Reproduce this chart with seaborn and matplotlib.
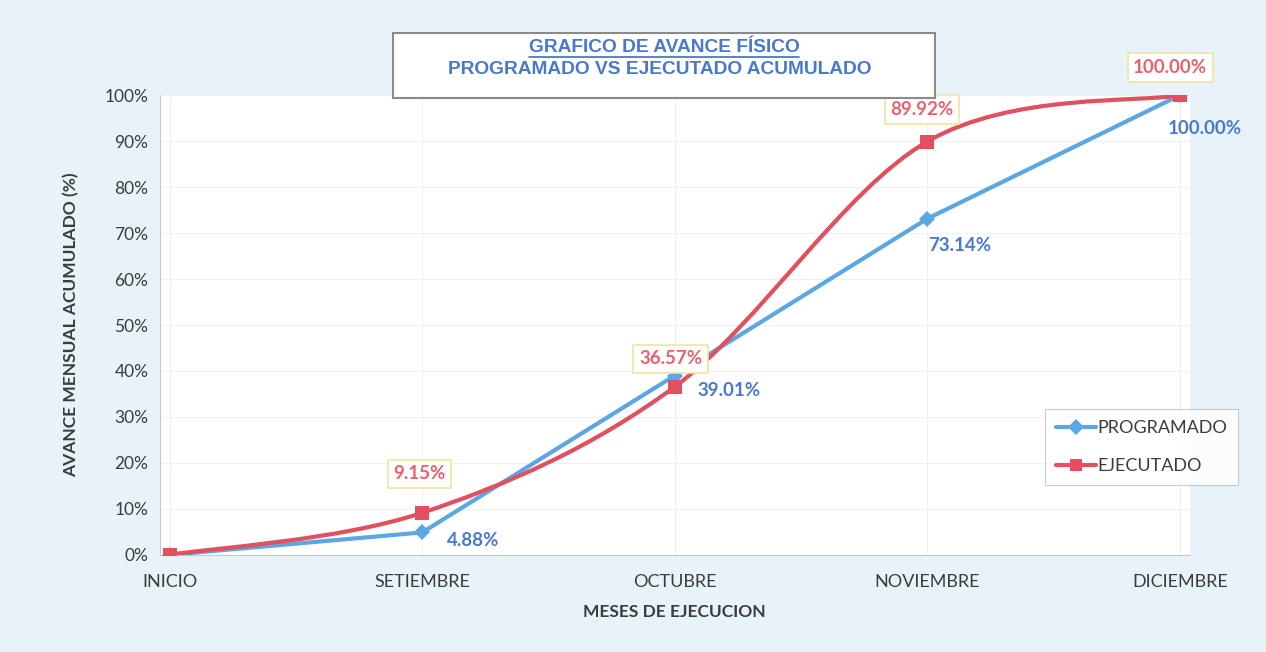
import numpy as np
import pandas as pd
import seaborn as sns
import matplotlib
matplotlib.use("Agg")
import matplotlib.pyplot as plt
from matplotlib.path import Path
from matplotlib.patches import PathPatch, Rectangle
from matplotlib.lines import Line2D

# ---- data ----
meses = ["INICIO", "SETIEMBRE", "OCTUBRE", "NOVIEMBRE", "DICIEMBRE"]
programado = [0.0, 4.88, 39.01, 73.14, 100.00]
ejecutado = [0.0, 9.15, 36.57, 89.92, 100.00]
yticks_vals = [0, 10, 20, 30, 40, 50, 60, 70, 80, 90, 100]

BLUE = "#5ba7e3"
RED = "#e0505f"
BLUE_TXT = "#4a78cc"
RED_TXT = "#e8626c"
BG = "#e7f3f8"
TXT = "#3c3c3c"

sns.set_theme(style="white")
plt.rcParams["font.family"] = ["Lato", "DejaVu Sans"]

fig = plt.figure(figsize=(12.66, 6.52), dpi=100)
fig.patch.set_facecolor(BG)
ax = fig.add_axes([0.126, 0.149, 0.814, 0.705])
ax.set_facecolor("white")

x = np.arange(len(meses))
df = pd.DataFrame({
    "pos": np.concatenate([x, x]),
    "valor": np.array(programado + ejecutado) / 100.0,
    "serie": ["PROGRAMADO"] * len(x) + ["EJECUTADO"] * len(x),
})

# programado: straight line with diamond markers
sns.lineplot(data=df[df.serie == "PROGRAMADO"], x="pos", y="valor", ax=ax,
             color=BLUE, lw=3, marker="D", markersize=8, markeredgewidth=0,
             zorder=3, legend=False)

# ejecutado: smoothed line (Excel-like bezier) with square markers
ey = np.array(ejecutado) / 100.0
pts = np.column_stack([x, ey])
verts = [tuple(pts[0])]
codes = [Path.MOVETO]
n = len(pts)
for i in range(n - 1):
    p0 = pts[i - 1] if i > 0 else pts[i]
    p1 = pts[i]
    p2 = pts[i + 1]
    p3 = pts[i + 2] if i + 2 < n else pts[i + 1]
    c1 = p1 + (p2 - p0) / 6.0
    c2 = p2 - (p3 - p1) / 6.0
    verts += [tuple(c1), tuple(c2), tuple(p2)]
    codes += [Path.CURVE4] * 3
ax.add_patch(PathPatch(Path(verts, codes), facecolor="none", edgecolor=RED,
                       lw=3, zorder=4, transform=ax.transData))
sns.scatterplot(data=df[df.serie == "EJECUTADO"], x="pos", y="valor", ax=ax,
                color=RED, marker="s", s=110, linewidth=0, zorder=5, legend=False)

# axes
ax.set_xlim(-0.04, 4.04)
ax.set_ylim(0, 1.0)
ax.set_xticks(x)
ax.set_xticklabels(meses, fontsize=13, color=TXT)
ax.set_yticks([v / 100 for v in yticks_vals])
ax.set_yticklabels([f"{v}%" for v in yticks_vals], fontsize=12.5, color=TXT)
ax.tick_params(axis="x", pad=14, length=0)
ax.tick_params(axis="y", pad=8, length=0)
ax.grid(True, color="#f0f0f0", lw=0.8)
for s in ["top", "right"]:
    ax.spines[s].set_visible(False)
for s in ["left", "bottom"]:
    ax.spines[s].set_color("#c8c8c8")
    ax.spines[s].set_linewidth(0.8)
ax.set_xlabel("MESES DE EJECUCION", fontsize=12.5, fontweight="bold", color=TXT, labelpad=10)
ax.set_ylabel("AVANCE MENSUAL ACUMULADO (%)", fontsize=12.5, fontweight="bold", color=TXT, labelpad=18)

# data labels
prog_off = [None, (37, -6), (39, -11), (23, -19), (18, -24)]
ejec_off = [None, (-2, 28), (-3, 20), (-4, 23), (-7, 20)]
for i in range(1, n):
    ax.annotate(f"{programado[i]:.2f}%", (x[i], programado[i] / 100), xytext=prog_off[i],
                textcoords="offset points", ha="center", va="center", fontsize=13.5,
                fontweight="bold", color=BLUE_TXT, zorder=6)
    ax.annotate(f"{ejecutado[i]:.2f}%", (x[i], ejecutado[i] / 100), xytext=ejec_off[i],
                textcoords="offset points", ha="center", va="center", fontsize=13.5,
                fontweight="bold", color=RED_TXT, zorder=6,
                bbox=dict(boxstyle="square,pad=0.3", fc="white", ec="#f3e3a0", lw=1.2))

# legend
handles = [Line2D([0], [0], color=BLUE, lw=3, marker="D", markersize=8, markeredgewidth=0),
           Line2D([0], [0], color=RED, lw=3, marker="s", markersize=9, markeredgewidth=0)]
leg = ax.legend(handles, ["PROGRAMADO", "EJECUTADO"], loc="upper left",
                bbox_to_anchor=(1036 / 1266, 1 - 400 / 652), bbox_transform=fig.transFigure,
                frameon=True, fancybox=False, fontsize=13, handlelength=2.2,
                handletextpad=0.1, labelspacing=1.25, borderpad=0.6)
leg.get_frame().set_edgecolor("#bfbfbf")
leg.get_frame().set_linewidth(0.8)
for t in leg.get_texts():
    t.set_color(TXT)

# title box
fig.add_artist(Rectangle((393 / 1266, 1 - 98 / 652), (935 - 393) / 1266, (98 - 33) / 652,
                         transform=fig.transFigure, fc="white", ec="#8a8a8a", lw=1.5, zorder=10))
t1 = fig.text(664 / 1266, 1 - 47 / 652, "GRAFICO DE AVANCE FÍSICO", ha="center", va="center",
              fontsize=13.8, fontweight="bold", color=BLUE_TXT,
              family=["Liberation Sans", "DejaVu Sans"], zorder=11)
fig.text(660 / 1266, 1 - 69 / 652, "PROGRAMADO VS EJECUTADO ACUMULADO", ha="center", va="center",
         fontsize=13.8, fontweight="bold", color=BLUE_TXT,
         family=["Liberation Sans", "DejaVu Sans"], zorder=11)

fig.canvas.draw()
bb = t1.get_window_extent(renderer=fig.canvas.get_renderer())
W, H = fig.bbox.width, fig.bbox.height
uy = (bb.y0 - 1) / H
fig.add_artist(Line2D([bb.x0 / W, bb.x1 / W], [uy, uy], transform=fig.transFigure,
                      color=BLUE_TXT, lw=1.3, zorder=11))

fig.savefig("out.png", dpi=100, facecolor=fig.get_facecolor())
